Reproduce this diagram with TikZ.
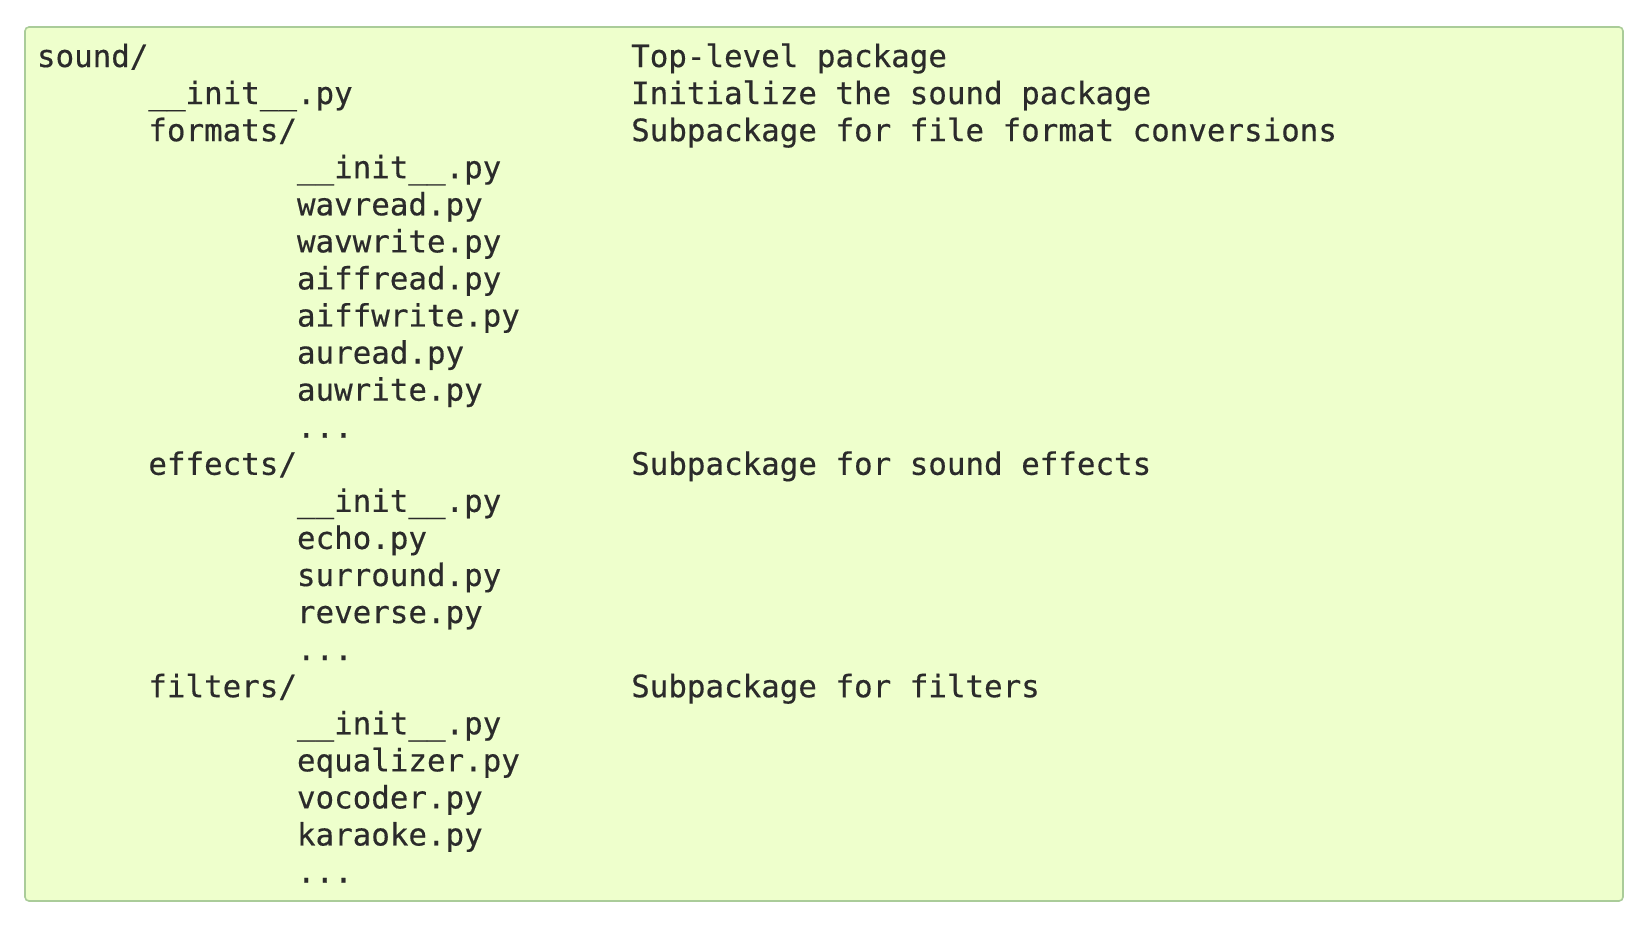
\documentclass[tikz,border=0pt]{standalone}
\usepackage{fontspec}
\newfontfamily\codefont[FakeBold=0.4]{DejaVu Sans Mono}
\definecolor{panelbg}{HTML}{EEFFCC}
\definecolor{panelrule}{HTML}{AACC99}
\definecolor{codetext}{HTML}{2B2B2B}
\begin{document}
\begin{tikzpicture}[x=1pt,y=-1pt,
  codeline/.style={anchor=base west,inner sep=0pt,outer sep=0pt,text=codetext,
    font=\codefont\fontsize{30.85}{37}\selectfont},
  panel/.style={fill=panelbg,draw=panelrule,line width=1.6pt,rounded corners=4pt}]
\useasboundingbox (0,0) rectangle (1652,924);
% code panel
\draw[panel] (25,27) rectangle (1623,901);
% column positions: one character cell is 18.57 units, one line 37.07 units
\def\colA{37}
\def\colB{148.4}
\def\colC{297}
\def\colD{631.2}
\def\lh{37.07}
\def\top{67.0}
% directory tree
\node[codeline] (l1)  at (\colA,{\top+0*\lh})  {sound/};
\node[codeline] (l2)  at (\colB,{\top+1*\lh})  {\_\_init\_\_.py};
\node[codeline] (l3)  at (\colB,{\top+2*\lh})  {formats/};
\node[codeline] (l4)  at (\colC,{\top+3*\lh})  {\_\_init\_\_.py};
\node[codeline] (l5)  at (\colC,{\top+4*\lh})  {wavread.py};
\node[codeline] (l6)  at (\colC,{\top+5*\lh})  {wavwrite.py};
\node[codeline] (l7)  at (\colC,{\top+6*\lh})  {aiffread.py};
\node[codeline] (l8)  at (\colC,{\top+7*\lh})  {aiffwrite.py};
\node[codeline] (l9)  at (\colC,{\top+8*\lh})  {auread.py};
\node[codeline] (l10) at (\colC,{\top+9*\lh})  {auwrite.py};
\node[codeline] (l11) at (\colC,{\top+10*\lh}) {...};
\node[codeline] (l12) at (\colB,{\top+11*\lh}) {effects/};
\node[codeline] (l13) at (\colC,{\top+12*\lh}) {\_\_init\_\_.py};
\node[codeline] (l14) at (\colC,{\top+13*\lh}) {echo.py};
\node[codeline] (l15) at (\colC,{\top+14*\lh}) {surround.py};
\node[codeline] (l16) at (\colC,{\top+15*\lh}) {reverse.py};
\node[codeline] (l17) at (\colC,{\top+16*\lh}) {...};
\node[codeline] (l18) at (\colB,{\top+17*\lh}) {filters/};
\node[codeline] (l19) at (\colC,{\top+18*\lh}) {\_\_init\_\_.py};
\node[codeline] (l20) at (\colC,{\top+19*\lh}) {equalizer.py};
\node[codeline] (l21) at (\colC,{\top+20*\lh}) {vocoder.py};
\node[codeline] (l22) at (\colC,{\top+21*\lh}) {karaoke.py};
\node[codeline] (l23) at (\colC,{\top+22*\lh}) {...};
% descriptions
\node[codeline] (d1)  at (\colD,{\top+0*\lh})  {Top-level package};
\node[codeline] (d2)  at (\colD,{\top+1*\lh})  {Initialize the sound package};
\node[codeline] (d3)  at (\colD,{\top+2*\lh})  {Subpackage for file format conversions};
\node[codeline] (d12) at (\colD,{\top+11*\lh}) {Subpackage for sound effects};
\node[codeline] (d18) at (\colD,{\top+17*\lh}) {Subpackage for filters};
\end{tikzpicture}
\end{document}
